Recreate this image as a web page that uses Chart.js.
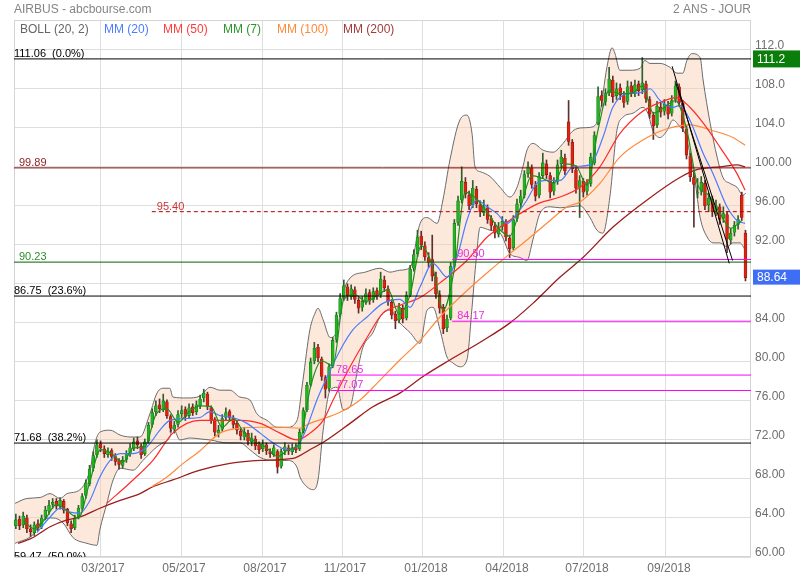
<!DOCTYPE html>
<html><head><meta charset="utf-8">
<script src="https://cdn.jsdelivr.net/npm/chart.js@4.4.1/dist/chart.umd.min.js"></script>
<style>html,body{margin:0;padding:0;background:#fff}#wrap{width:800px;height:580px;position:relative}</style>
</head><body><div id="wrap"><canvas id="c"></canvas></div>
<script>
// ---- candles (one slot each, slot index = position on time axis) ----
const opens=[63.2,63.9,63.3,64.0,62.9,62.5,63.4,63.1,64.1,64.7,
65.4,65.7,65.2,65.7,64.9,63.4,63.0,64.1,65.0,66.3,
67.5,69.1,70.5,71.6,71.1,70.5,70.9,70.3,69.9,69.4,
70.0,70.6,71.1,71.9,71.4,70.6,71.9,73.6,74.9,75.6,
75.1,75.9,74.4,73.1,73.6,74.7,75.1,74.5,75.4,74.9,
75.5,76.3,76.7,75.3,74.1,72.7,73.1,74.3,74.9,74.2,
73.7,72.9,72.3,72.7,71.8,72.1,71.5,71.1,71.5,70.8,
70.5,70.8,69.3,70.9,71.2,70.8,71.3,71.1,72.9,75.1,
77.7,80.1,81.5,80.3,78.4,77.3,79.6,82.3,84.9,86.6,
87.7,86.7,87.4,86.3,85.6,86.1,87.1,86.4,87.3,86.9,
88.4,87.5,86.1,84.9,84.3,85.5,84.5,86.9,89.6,91.1,
92.9,91.9,90.7,90.5,88.7,86.9,85.6,83.5,84.5,89.9,
94.3,96.6,98.4,97.1,96.1,97.7,96.1,95.3,95.8,94.7,
93.9,93.1,93.9,94.3,92.7,91.7,94.7,96.3,97.1,99.3,
99.9,98.1,97.1,99.1,100.3,99.1,97.5,98.5,100.3,100.9,
104.6,102.5,99.7,97.9,98.5,97.5,98.3,100.4,104.5,107.3,
106.7,107.6,108.9,107.3,108.1,107.3,106.7,108.3,107.5,108.5,
107.9,108.5,106.9,105.3,104.3,106.1,105.7,106.3,105.5,106.9,
108.2,106.5,103.9,101.1,98.9,97.3,97.5,98.3,96.1,96.7,
95.5,95.9,94.7,95.1,92.5,93.3,94.1,97.1,93.2];
const highs=[64.4,64.2,64.6,64.3,63.3,63.6,63.8,64.3,65.2,65.8,
66.0,66.0,66.1,65.9,65.0,63.7,64.3,65.3,66.5,67.9,
69.4,70.8,72.0,71.9,71.4,71.2,71.1,70.6,70.1,70.3,
70.9,71.6,72.2,72.3,71.6,72.1,73.8,75.2,76.0,76.2,
76.7,76.1,74.6,73.9,75.0,75.5,75.4,75.7,75.7,76.0,
76.6,77.2,76.9,75.5,74.3,73.5,74.6,75.3,75.1,74.5,
73.9,73.2,73.3,73.0,72.7,72.4,71.8,72.0,71.7,71.1,
71.5,71.0,71.1,71.7,71.5,71.6,71.6,73.1,75.3,77.9,
80.4,82.0,81.8,80.5,78.6,79.8,82.5,85.1,87.0,88.4,
88.0,87.9,87.7,86.6,86.7,87.5,87.4,87.6,87.6,89.2,
88.8,87.8,86.4,85.2,86.0,85.8,87.2,89.9,91.5,93.5,
93.4,92.3,91.2,93.0,89.2,87.3,85.9,84.8,90.2,94.6,
97.0,100.0,98.9,97.5,98.6,98.0,96.5,96.6,96.1,95.0,
94.3,94.3,94.9,94.6,93.0,95.0,96.7,97.6,99.6,100.5,
100.2,98.5,99.4,101.4,100.7,99.4,98.9,100.7,101.7,101.3,
106.8,102.8,100.1,99.1,98.8,98.7,101.4,103.6,108.2,107.8,
108.0,110.2,109.3,108.6,108.5,107.7,108.8,108.7,108.9,108.8,
111.2,108.8,107.2,105.6,106.7,106.6,106.9,106.7,107.3,108.8,
108.5,106.8,104.2,101.4,99.4,98.8,99.0,98.6,97.3,97.0,
96.6,96.2,95.9,95.4,93.7,94.4,95.0,97.4,93.5];
const lows=[62.9,62.8,63.0,62.5,62.1,62.2,62.7,62.9,63.8,64.4,
65.0,64.9,64.9,64.5,63.2,62.5,62.8,63.9,64.8,66.0,
67.3,68.8,70.2,70.8,70.2,70.2,69.9,69.4,69.0,69.1,
69.7,70.3,70.9,71.1,70.1,70.4,71.7,73.3,74.5,74.8,
74.9,74.2,72.8,72.7,73.3,74.3,74.0,74.2,74.5,74.6,
75.2,75.9,75.1,73.7,72.4,72.3,72.9,74.0,73.9,73.2,
72.6,72.0,72.0,71.5,71.4,71.0,70.6,70.8,70.5,70.2,
70.3,68.6,69.1,70.5,70.5,70.5,70.7,70.9,72.7,74.9,
77.5,79.8,80.0,78.1,76.3,77.0,79.4,82.0,84.6,86.3,
86.3,86.4,86.0,85.0,85.2,85.9,85.9,86.1,86.4,86.6,
87.2,85.8,84.4,83.4,84.0,84.0,84.3,86.7,89.3,90.8,
91.5,90.4,89.7,88.3,86.5,85.0,82.9,83.1,84.3,89.7,
94.0,96.3,96.8,95.6,95.8,95.8,94.9,95.0,94.2,93.5,
92.7,92.8,93.5,92.4,90.7,91.5,94.4,95.9,96.8,98.9,
97.8,96.5,96.8,98.8,98.8,96.8,97.1,98.2,99.9,99.2,
102.2,99.4,97.3,94.8,96.9,97.1,98.0,100.2,104.3,106.2,
106.3,107.3,106.6,106.9,106.9,106.1,106.4,107.2,107.2,107.3,
107.5,106.6,105.0,102.8,104.0,105.1,105.3,104.9,105.2,106.6,
106.2,103.6,100.8,98.5,93.8,96.8,97.1,95.6,95.4,94.9,
95.0,94.1,94.3,91.2,92.1,92.9,93.6,94.5,88.3];
const closes=[63.8,63.2,64.2,62.9,62.6,63.3,63.0,64.0,64.8,65.3,
65.6,65.2,65.8,64.8,63.5,62.9,64.0,65.0,66.2,67.6,
69.0,70.4,71.5,71.2,70.6,70.8,70.3,69.8,69.5,69.9,
70.5,71.2,71.8,71.5,70.5,71.8,73.5,74.8,75.5,75.2,
76.0,74.5,73.2,73.5,74.6,75.0,74.4,75.3,74.8,75.6,
76.2,76.8,75.4,74.0,72.8,73.0,74.2,74.8,74.3,73.6,
73.0,72.4,72.8,71.9,72.2,71.4,71.0,71.6,70.9,70.6,
71.2,69.2,70.8,71.3,70.9,71.2,71.0,72.8,75.0,77.6,
80.0,81.4,80.4,78.5,77.2,79.5,82.2,84.8,86.5,87.8,
86.8,87.5,86.4,85.5,86.2,87.0,86.3,87.2,86.8,88.5,
87.6,86.2,84.8,84.2,85.6,84.4,86.8,89.5,91.0,92.8,
92.0,90.8,90.2,88.8,87.0,85.5,83.4,84.4,89.8,94.2,
96.5,98.5,97.2,96.0,97.8,96.2,95.4,95.9,94.6,94.0,
93.2,93.8,94.4,92.8,91.6,94.6,96.2,97.0,99.2,100.0,
98.2,97.0,99.0,100.4,99.2,97.4,98.4,100.2,101.0,99.6,
102.6,99.8,97.8,98.6,97.4,98.2,101.0,103.2,107.2,106.8,
107.5,109.0,107.2,108.0,107.4,106.6,108.2,107.6,108.4,107.8,
108.6,107.0,105.4,104.2,106.2,105.6,106.4,105.4,106.8,108.3,
106.6,104.0,101.2,99.0,98.2,97.4,98.4,96.0,96.8,95.4,
96.0,94.6,95.2,92.6,93.2,94.0,94.6,94.8,88.64];

// ---- indicators (x = time slot, y = price) ----
const mm7X=[2,5,8,11,14,17,20,23,26,29,32,35,38,41,44,47,50,53,56,59,62,65,68,71,74,77,80,83,86,89,92,95,98,101,104,107,110,113,116,119,122,125,128,131,134,137,140,143,146,149,152,155,158,161,164,167,170,173,176,179,182,185,188,191,194,197];
const mm7Y=[63.7,62.9,63.9,65.4,64.7,64.0,67.6,71.0,70.6,69.7,71.2,71.3,74.6,75.2,73.8,74.9,75.5,75.4,73.3,74.2,72.7,71.8,71.2,70.3,71.0,71.7,77.5,80.1,79.6,86.4,86.9,86.2,86.8,87.4,84.9,86.9,91.9,89.9,85.3,89.5,97.4,96.7,95.3,93.7,92.9,95.9,99.1,98.8,98.3,100.3,100.1,98.1,103.8,107.8,107.5,107.5,108.3,105.5,106.1,106.8,103.9,98.2,97.1,95.3,93.7,94.5];
const mm20X=[6.2,9.8,12.5,15.2,17.9,20.6,23.3,26.1,28.8,32.3,36.1,39.6,42.3,46.9,50.5,53.2,55.9,59.4,63.2,66.8,70.3,74.1,76.8,79.5,82.2,84.9,88.5,92.0,95.8,100.1,104.7,107.5,110.2,113.7,117.5,120.2,122.9,125.6,128.4,131.1,133.8,136.5,139.2,141.9,144.6,148.2,151.7,156.3,159.8,162.5,166.3,169.9,172.6,175.3,178.8,180.7,183.4,187.0,189.7,193.5,196.2,198.4];
const mm20Y=[62.5,64.1,65.0,64.6,64.5,65.8,68.2,69.9,70.6,70.6,71.3,73.0,74.0,74.2,74.3,74.9,74.5,74.3,73.7,72.7,71.7,71.0,71.3,73.3,76.1,78.4,81.2,83.3,84.6,86.0,86.4,85.6,87.7,90.1,88.7,90.7,94.5,96.6,95.9,95.2,94.2,95.2,96.6,98.3,98.6,98.6,100.0,100.2,103.0,106.1,107.5,107.6,108.0,106.8,106.1,106.3,104.8,101.4,99.3,95.9,94.5,94.2];
const mm50X=[25.2,32.3,37.7,43.1,50.5,55.9,61.3,66.8,72.2,76.8,80.3,83.9,86.6,91.2,95.8,100.1,104.7,110.2,115.6,122.9,128.4,131.9,137.3,142.7,148.2,153.6,159.0,164.4,169.9,175.3,179.9,183.4,187.0,191.6,196.2,198.4];
const mm50Y=[65.5,67.9,69.9,72.7,74.0,74.0,74.0,73.7,72.7,72.0,72.7,74.0,76.1,79.5,82.5,85.0,85.8,86.6,88.1,90.4,92.8,93.8,95.2,96.3,96.9,97.9,100.0,103.4,105.5,106.6,107.1,106.1,104.5,102.0,99.3,97.6];
const mm100X=[37.4,41.5,45.9,50.5,55.9,61.3,66.8,72.2,77.6,80.3,84.9,89.3,93.9,98.5,104.7,110.2,115.6,122.9,129.2,134.6,139.2,145.5,150.1,153.6,159.0,164.4,171.8,177.2,183.4,189.7,195.1,198.4];
const mm100Y=[67.2,68.2,69.6,70.9,72.7,73.2,73.3,73.3,73.2,73.7,74.3,75.0,76.1,77.8,80.2,82.2,84.6,87.3,89.4,91.1,92.5,94.5,95.9,96.4,98.3,101.0,103.0,103.9,104.3,103.7,103.0,102.2];
const mm200X=[1.1,5.2,9.8,14.4,17.9,23.3,28.8,34.2,37.7,43.1,50.5,58.6,66.8,75.7,80.3,84.9,91.2,97.4,104.7,111.0,118.3,127.3,134.6,140.8,148.2,154.4,162.5,171.8,180.7,185.3,191.6,196.2,198.4];
const mm200Y=[61.4,62.0,63.1,63.8,64.1,65.0,65.8,66.5,67.2,67.9,68.9,69.6,69.9,70.1,71.0,72.0,73.7,75.4,76.8,78.5,80.2,82.2,84.0,86.0,88.7,90.7,93.8,96.6,98.9,99.7,100.0,100.2,100.0];
const bollUpX=[0.3,3.5,7.1,9.8,12.5,14.4,17.9,20.6,22.0,23.3,26.1,28.8,31.5,34.2,36.9,38.8,40.4,42.3,43.1,46.9,50.5,53.2,55.9,58.6,61.3,64.0,65.9,68.7,71.4,74.1,76.8,78.4,80.3,81.7,82.5,83.9,85.8,87.7,89.3,91.2,95.3,99.3,102.0,104.7,107.5,110.2,112.1,114.8,116.4,118.3,121.0,122.9,124.3,125.1,126.5,129.2,131.9,134.6,136.5,138.1,139.2,140.8,143.6,146.3,149.0,151.7,154.4,157.1,159.0,160.9,162.3,163.1,164.4,167.2,169.9,171.2,172.6,175.3,178.0,179.9,181.5,182.6,184.0,186.2,187.0,188.9,190.8,192.4,194.3,196.2,197.8,198.6];
const bollUpY=[65.5,66.0,66.1,66.5,66.0,66.5,66.9,68.9,71.7,72.8,73.0,72.5,72.3,72.3,74.7,76.8,77.3,77.3,76.4,76.3,76.5,77.4,77.1,77.1,76.4,76.1,74.7,74.0,73.3,73.3,74.0,78.1,83.3,85.0,85.5,84.3,82.5,83.3,87.0,88.6,89.2,89.6,89.2,89.4,89.7,94.2,94.8,94.2,96.6,100.7,104.8,105.3,103.4,100.0,99.5,99.0,97.9,96.9,97.9,100.0,101.7,102.4,101.7,101.5,102.4,103.7,104.0,104.1,105.5,110.2,112.2,111.6,109.9,109.9,110.1,110.9,110.6,110.6,110.2,109.6,109.6,110.9,111.6,111.2,108.9,104.5,101.0,98.9,98.3,97.9,97.1,97.3];
const bollLoX=[0.3,5.2,7.9,10.6,13.3,16.0,19.8,22.5,23.3,25.2,26.9,28.8,32.3,35.0,38.8,40.4,42.3,43.1,45.0,47.8,50.5,53.2,57.8,61.3,64.0,66.8,70.3,74.1,76.8,77.6,79.5,81.1,82.5,83.9,85.8,87.7,89.3,91.2,93.1,94.7,97.4,99.3,102.0,104.7,107.5,110.2,112.1,113.7,115.6,117.5,119.1,121.0,122.9,124.3,125.3,126.5,129.2,131.9,134.6,137.3,139.2,140.8,142.7,145.5,148.2,151.0,153.6,156.3,158.2,159.8,161.7,163.6,165.3,168.0,170.7,172.0,173.4,175.3,177.2,178.8,180.7,182.1,183.4,184.8,186.2,188.1,189.7,191.6,193.5,195.1,197.0,198.4];
const bollLoY=[61.4,62.3,63.8,64.0,63.5,62.0,61.4,61.2,62.8,65.5,67.9,69.1,68.9,69.9,71.3,71.7,72.3,73.3,72.0,72.2,72.1,72.0,71.7,71.7,71.0,70.2,69.9,69.9,69.2,68.2,67.2,66.9,67.9,73.0,77.1,77.4,75.1,75.4,78.9,81.5,83.0,84.6,85.3,84.0,83.0,81.9,85.3,85.6,83.3,80.5,79.9,79.5,80.2,85.6,90.0,93.8,93.5,93.2,91.1,90.7,90.4,92.5,95.2,95.9,95.8,95.9,96.0,94.8,93.5,93.2,96.9,103.7,105.1,105.5,106.1,105.5,103.7,103.0,103.7,104.8,104.1,103.4,101.4,98.6,94.8,92.8,92.2,92.2,91.8,92.2,92.2,91.5];

// ---- horizontal levels and drawn trend lines ----
const levelValues=[111.06,99.89,95.40,90.23,90.50,86.75,84.17,78.65,77.07,71.68,59.47];
const levelTexts=['111.06  (0.0%)','99.89','95.40','90.23','90.50','86.75  (23.6%)','84.17','78.65','77.07','71.68  (38.2%)','59.47  (50.0%)'];
const levelFrom=[0,0,37.4,0,118.9,0,118.9,86.0,86.0,0,0];
const trendA=[[178.6,110.3],[194.1,90.1]];
const trendB=[[179.6,108.6],[195.0,90.4]];

// ---- axis labels ----
const monthPos=[23.34,45.32,67.30,89.01,110.99,132.97,154.68,176.93];
const monthLabels=['03/2017','05/2017','08/2017','11/2017','01/2018','04/2018','07/2018','09/2018'];
const yTickVals=[60,64,68,72,76,80,84,88,92,96,100,104,108,112];
const yTickLabels=['60.00','64.00','68.00','72.00','76.00','80.00','84.00','88.00','92.00','96.00','100.00','104.0','108.0','112.0'];
const lastHigh=111.2, lastHighAt=111.06, lastClose=88.64;

const FONT="'Liberation Sans', Arial, sans-serif";
const levelStyle=[
 {c:'#000000',t:'#000000',dash:[],fib:true},
 {c:'#7a0000',t:'#8b1a1a',dash:[],fib:false},
 {c:'#b00000',t:'#cc3333',dash:[4,3],fib:false},
 {c:'#006400',t:'#2e8b2e',dash:[],fib:false},
 {c:'#ff00ff',t:'#e62ee6',dash:[],fib:false},
 {c:'#000000',t:'#000000',dash:[],fib:true},
 {c:'#ff00ff',t:'#e62ee6',dash:[],fib:false},
 {c:'#ff00ff',t:'#e62ee6',dash:[],fib:false},
 {c:'#ff00ff',t:'#e62ee6',dash:[],fib:false},
 {c:'#000000',t:'#000000',dash:[],fib:true},
 {c:'#000000',t:'#000000',dash:[],fib:true}
];

const pts=(xs,ys)=>xs.map((x,k)=>({x:x,y:ys[k]}));
const lineDS=(label,xs,ys,color,w,order,extra)=>Object.assign({type:'line',label,data:pts(xs,ys),borderColor:color,borderWidth:w,pointRadius:0,fill:false,cubicInterpolationMode:'monotone',order},extra||{});

const up=closes.map((c,i)=>c>=opens[i]);
const datasets=[];
datasets.push(lineDS('BOLL up',bollUpX,bollUpY,'#6a6a6a',1,100,{fill:'+1',backgroundColor:'rgba(250,200,172,0.42)'}));
datasets.push(lineDS('BOLL low',bollLoX,bollLoY,'#6a6a6a',1,99));
datasets.push({type:'bar',label:'wick',data:highs.map((h,i)=>({x:i+0.5,y:[lows[i],h]})),backgroundColor:up.map(u=>u?'#2f5f2f':'#5f2f2f'),barThickness:1,grouped:false,order:90});
datasets.push({type:'bar',label:'body',data:opens.map((o,i)=>({x:i+0.5,y:[o,closes[i]]})),backgroundColor:up.map(u=>u?'#22b422':'#dd2211'),borderColor:up.map(u=>u?'#127a12':'#9a1508'),borderWidth:0.6,borderSkipped:false,barThickness:2.9,grouped:false,order:80});
datasets.push(lineDS('MM200',mm200X,mm200Y,'#9b1c1c',1.3,45));
datasets.push(lineDS('MM100',mm100X,mm100Y,'#ff8a3a',1.2,44));
datasets.push(lineDS('MM50',mm50X,mm50Y,'#ff2a2a',1.2,43));
datasets.push(lineDS('MM20',mm20X,mm20Y,'#4a7cff',1.2,42));
datasets.push(lineDS('MM7',mm7X.map(v=>v+0.5),mm7Y,'#1e8f1e',1.2,41));
levelValues.forEach((v,k)=>{
  datasets.push({type:'line',label:'lvl'+k,data:[{x:levelFrom[k],y:v},{x:200,y:v}],borderColor:levelStyle[k].c,borderWidth:1,borderDash:levelStyle[k].dash,pointRadius:0,fill:false,order:10});
});
[trendA,trendB].forEach((t,k)=>datasets.push({type:'line',label:'trend'+k,data:t.map(p=>({x:p[0],y:p[1]})),borderColor:'#000',borderWidth:1,pointRadius:0,fill:false,order:5}));

const decor={
 id:'decor',
 beforeDatasetsDraw(chart){
   const {ctx,chartArea:a}=chart;
   ctx.save();ctx.strokeStyle='#d4d4d4';ctx.lineWidth=1;
   ctx.strokeRect(a.left+0.5,a.top+0.5,a.right-a.left-1,a.bottom-a.top-1);
   ctx.restore();
 },
 afterDatasetsDraw(chart){
   const {ctx,chartArea:a,scales}=chart;
   const xs=scales.x, ys=scales.y;
   ctx.save();
   ctx.beginPath();ctx.rect(a.left,a.top,a.right-a.left,a.bottom-a.top);ctx.clip();
   ctx.font='11px '+FONT;ctx.textBaseline='alphabetic';ctx.textAlign='left';
   levelValues.forEach((v,k)=>{
     const y=ys.getPixelForValue(v);
     const x=xs.getPixelForValue(levelFrom[k])+(levelStyle[k].fib?0:5);
     ctx.fillStyle=levelStyle[k].t;
     ctx.fillText(levelTexts[k],x,y-2);
   });
   // legend row
   ctx.font='12px '+FONT;
   const leg=[['BOLL (20, 2)','#666666',20],['MM (20)','#4a7cff',104],['MM (50)','#ff3b3b',163],['MM (7)','#2a962a',223],['MM (100)','#ff8a3a',277],['MM (200)','#a33a3a',343]];
   leg.forEach(l=>{ctx.fillStyle=l[1];ctx.fillText(l[0],l[2],32.5);});
   ctx.restore();
 },
 afterDraw(chart){
   const {ctx,chartArea:a,scales}=chart;
   const ys=scales.y;
   ctx.save();
   ctx.font='12px '+FONT;ctx.textBaseline='alphabetic';
   ctx.fillStyle='#858585';ctx.textAlign='left';
   ctx.fillText('AIRBUS - abcbourse.com',14,13);
   ctx.textAlign='right';
   ctx.fillText('2 ANS - JOUR',751,13);
   ctx.textAlign='left';
   let y=ys.getPixelForValue(lastHighAt);
   ctx.fillStyle='#0b7d0b';ctx.fillRect(753,y-8.5,47,17);
   ctx.fillStyle='#ffffff';ctx.fillText(lastHigh.toFixed(1),757,y+4.5);
   y=ys.getPixelForValue(lastClose)-1;
   ctx.fillStyle='#3d6ef5';ctx.fillRect(753,y-7,47,15);
   ctx.fillStyle='#ffffff';ctx.fillText(lastClose.toFixed(2),757,y+4.5);
   ctx.restore();
 }
};

new Chart(document.getElementById('c'),{
 type:'bar',
 data:{datasets},
 options:{
  responsive:true,maintainAspectRatio:false,animation:false,
  layout:{padding:{left:14,top:20,right:0,bottom:0}},
  plugins:{legend:{display:false},tooltip:{enabled:false}},
  scales:{
   x:{type:'linear',min:0,max:200,offset:false,
      grid:{color:'#dedede',drawTicks:false,offset:false},border:{display:false},
      afterBuildTicks:s=>{s.ticks=monthPos.map(v=>({value:v}));},
      afterFit:s=>{s.height=23;},
      ticks:{callback:(v,i)=>monthLabels[i],color:'#6e6e6e',font:{family:FONT,size:12},padding:4,labelOffset:3,maxRotation:0,autoSkip:false}},
   y:{type:'linear',position:'right',min:60,max:115.05,
      grid:{color:'#dedede',drawTicks:false},border:{display:false},
      afterBuildTicks:s=>{s.ticks=yTickVals.map(v=>({value:v}));},
      afterFit:s=>{s.width=49;},
      ticks:{callback:(v,i)=>yTickLabels[i],color:'#6e6e6e',font:{family:FONT,size:12},padding:4,labelOffset:-4,autoSkip:false}}
  }
 },
 plugins:[decor]
});
</script></body></html>
